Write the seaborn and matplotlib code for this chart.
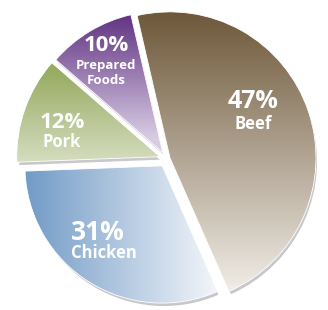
import matplotlib
matplotlib.use("Agg")
import matplotlib.pyplot as plt
import seaborn as sns
import numpy as np
from matplotlib.colors import LinearSegmentedColormap

sns.set_style("white")
plt.rcParams['font.family'] = ['Open Sans', 'DejaVu Sans']

# data
categories = ['Beef', 'Chicken', 'Pork', 'Prepared Foods']
shares = [47, 31, 12, 10]
pct_labels = ['47%', '31%', '12%', '10%']
name_labels = ['Beef', 'Chicken', 'Pork', 'Prepared\nFoods']

# gradient colours: (dark end, light end, direction)
grad = {
    'Beef': ('#6e583a', '#f6f3ee', 'v'),
    'Chicken': ('#6c97c4', '#f1f4f9', 'h'),
    'Pork': ('#97ab62', '#f4f5ec', 'v'),
    'Prepared Foods': ('#5a2a7c', '#d8cce4', 'v'),
}
explode = [0.025, 0.055, 0.048, 0.05]
radii = [1.0, 0.94, 0.98, 0.97]

fig = plt.figure(figsize=(3.28, 3.10), dpi=100)
ax = fig.add_axes([0, 0, 1, 1])
ax.axis('off')

# shadow rim (slight 3d look)
sh, _ = ax.pie(shares, startangle=103, counterclock=False, explode=explode,
               colors=['#c8c8cc'] * 4, center=(0.012, -0.025), radius=1.0,
               wedgeprops=dict(zorder=0.5))

wedges, _ = ax.pie(shares, startangle=103, counterclock=False, explode=explode,
                   colors=['none'] * 4, radius=1.0,
                   wedgeprops=dict(edgecolor='white', linewidth=0.6, zorder=2))
for s, w, r in zip(sh, wedges, radii):
    s.set_radius(r)
    w.set_radius(r)

spans = {'Beef': (-1.0, 1.0), 'Chicken': (-1.0, 0.35), 'Pork': (-0.35, 0.6),
         'Prepared Foods': (0.1, 1.0)}
for w, cat in zip(wedges, categories):
    c0, c1, d = grad[cat]
    cmap = LinearSegmentedColormap.from_list(cat, [c0, c1])
    cx, cy = w.center
    lo, hi = spans[cat]
    n = 256
    ext = (cx - 1.1, cx + 1.1, cy - 1.1, cy + 1.1)
    if d == 'v':
        yy = np.linspace(cy + 1.1, cy - 1.1, n)
        vals = np.clip((hi - (yy - cy)) / (hi - lo), 0, 1)
        img = np.tile(vals[:, None], (1, 2))
    else:
        xx = np.linspace(cx - 1.1, cx + 1.1, n)
        vals = np.clip(((xx - cx) - lo) / (hi - lo), 0, 1)
        img = np.tile(vals[None, :], (2, 1))
    im = ax.imshow(img, cmap=cmap, vmin=0, vmax=1, extent=ext, aspect='auto',
                   interpolation='bilinear', zorder=1)
    im.set_clip_path(w)

ax.set_aspect('auto')
ax.set_xlim(-1.140, 1.106)
ax.set_ylim(-1.034, 1.089)

# labels
pct_pos = [(0.771, 0.672), (0.299, 0.250), (0.189, 0.605), (0.323, 0.853)]
name_pos = [(0.771, 0.600), (0.317, 0.183), (0.189, 0.541), (0.323, 0.764)]
pct_size = [18, 19, 16, 16]
name_size = [12, 12, 12, 9.5]
for i in range(4):
    ax.text(*pct_pos[i], pct_labels[i], transform=ax.transAxes, ha='center',
            va='center', color='white', fontsize=pct_size[i], fontweight='bold',
            zorder=3)
    ax.text(*name_pos[i], name_labels[i], transform=ax.transAxes, ha='center',
            va='center', color='white', fontsize=name_size[i], fontweight='bold',
            linespacing=1.15, zorder=3)

fig.savefig('out.png', dpi=100)
